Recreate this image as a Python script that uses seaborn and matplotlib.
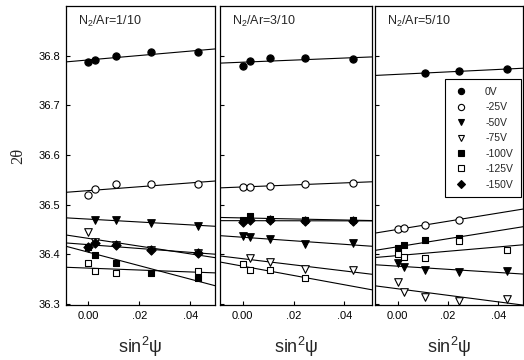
import numpy as np
import pandas as pd
import matplotlib
matplotlib.use("Agg")
import matplotlib.pyplot as plt
from matplotlib.lines import Line2D
from matplotlib.ticker import FixedLocator, FixedFormatter
import seaborn as sns

nan = np.nan

# ---- data ----
sin2psi = [0.0, 0.0027, 0.0109, 0.0245, 0.0432]
voltages = ["0V", "-25V", "-50V", "-75V", "-100V", "-125V", "-150V"]
panel_titles = ["N$_2$/Ar=1/10", "N$_2$/Ar=3/10", "N$_2$/Ar=5/10"]

# panel 1 : N2/Ar = 1/10
p1_0V   = [36.787, 36.792, 36.800, 36.807, 36.807]
p1_25V  = [36.519, 36.531, 36.541, 36.541, 36.541]
p1_50V  = [nan,    36.469, 36.469, 36.464, 36.458]
p1_75V  = [36.444, 36.424, 36.418, 36.408, 36.403]
p1_100V = [36.415, 36.398, 36.383, 36.363, 36.352]
p1_125V = [36.382, 36.367, 36.363, nan,    36.366]
p1_150V = [36.415, 36.422, 36.418, 36.408, 36.403]

# panel 2 : N2/Ar = 3/10
p2_0V   = [36.7785, 36.790, 36.7954, 36.7946, 36.7926]
p2_25V  = [36.5356, 36.5356, 36.5376, 36.5424, 36.5436]
p2_50V  = [36.4365, 36.434, 36.430, 36.4205, 36.422]
p2_75V  = [nan,     36.393, 36.3837, 36.370, 36.368]
p2_100V = [36.470,  36.477, 36.472, 36.470, 36.469]
p2_125V = [36.3797, 36.3683, 36.3683, 36.3528, nan]
p2_150V = [36.465,  36.469, 36.470, 36.467, 36.467]

# panel 3 : N2/Ar = 5/10
p3_0V   = [nan,     nan,     36.765,  36.7685, 36.773]
p3_25V  = [36.450,  36.452,  36.460,  36.470,  nan]
p3_50V  = [36.383,  36.3737, 36.3683, 36.3636, 36.3663]
p3_75V  = [36.3448, 36.3247, 36.3147, 36.306,  36.3094]
p3_100V = [36.4118, 36.4185, 36.4285, 36.433,  nan]
p3_125V = [36.4004, 36.395,  36.392,  36.4271, 36.4084]
p3_150V = [nan, nan, nan, nan, nan]

panels = [
    [p1_0V, p1_25V, p1_50V, p1_75V, p1_100V, p1_125V, p1_150V],
    [p2_0V, p2_25V, p2_50V, p2_75V, p2_100V, p2_125V, p2_150V],
    [p3_0V, p3_25V, p3_50V, p3_75V, p3_100V, p3_125V, p3_150V],
]

xticks = [0.0, 0.02, 0.04]
xticklabels = ["0.00", ".02", ".04"]
yticks = [36.3, 36.4, 36.5, 36.6, 36.7, 36.8]
yticklabels = ["36.3", "36.4", "36.5", "36.6", "36.7", "36.8"]

# ---- style ----
sns.set_theme(style="ticks")
plt.rcParams["font.family"] = ["Liberation Sans", "DejaVu Sans"]
plt.rcParams["mathtext.fontset"] = "custom"
plt.rcParams["mathtext.rm"] = "Liberation Sans"
plt.rcParams["mathtext.it"] = "Liberation Sans:italic"

markers = ["o", "o", "v", "v", "s", "s", "D"]
faces = ["black", "white", "black", "white", "black", "white", "black"]
sizes = [27, 27, 30, 30, 24, 24, 22]

fig = plt.figure(figsize=(5.24, 3.6), dpi=100)
positions = [
    [0.1260, 0.1528, 0.2844, 0.8306],
    [0.4198, 0.1528, 0.2900, 0.8306],
    [0.7156, 0.1528, 0.2824, 0.8306],
]
xlims = [(-0.0088, 0.0497), (-0.0089, 0.0508), (-0.0090, 0.0497)]
ylim = (36.298, 36.9)

axes = []
for i, (pos, series) in enumerate(zip(positions, panels)):
    ax = fig.add_axes(pos)
    axes.append(ax)
    ax.set_xlim(*xlims[i])
    ax.set_ylim(*ylim)
    # regression lines
    for vals in series:
        df = pd.DataFrame({"x": sin2psi, "y": vals}).dropna()
        if len(df) >= 2:
            sns.regplot(data=df, x="x", y="y", ax=ax, scatter=False, ci=None,
                        truncate=False, line_kws=dict(color="black", lw=0.8))
    # markers
    for vals, m, fc, s in zip(series, markers, faces, sizes):
        df = pd.DataFrame({"x": sin2psi, "y": vals}).dropna()
        if len(df):
            sns.scatterplot(data=df, x="x", y="y", ax=ax, marker=m, s=s,
                            color=fc, edgecolor="black", linewidth=0.8,
                            zorder=3, legend=False)
    ax.set_xlim(*xlims[i])
    ax.set_ylim(*ylim)
    ax.xaxis.set_major_locator(FixedLocator(xticks))
    ax.xaxis.set_major_formatter(FixedFormatter(xticklabels))
    ax.yaxis.set_major_locator(FixedLocator(yticks))
    ax.yaxis.set_major_formatter(FixedFormatter(yticklabels))
    ax.tick_params(direction="in", length=3, width=0.8, labelsize=8,
                   colors="black", pad=4)
    for sp in ax.spines.values():
        sp.set_visible(True)
        sp.set_color("black")
        sp.set_linewidth(0.9)
    if i > 0:
        ax.tick_params(labelleft=False)
        ax.set_ylabel("")
    ax.set_xlabel("sin$^2$ψ", fontsize=13, labelpad=10)
    ax.text(0.08, 0.975, panel_titles[i], transform=ax.transAxes,
            ha="left", va="top", fontsize=9)

axes[0].set_ylabel("2θ", fontsize=12, family=["Liberation Serif", "DejaVu Serif"])
axes[0].yaxis.set_label_coords(-0.27, 0.5)

handles = [Line2D([], [], marker=m, ls="none", markerfacecolor=fc,
                  markeredgecolor="black", markeredgewidth=0.8, markersize=4.5)
           for m, fc in zip(markers, faces)]
leg = axes[2].legend(handles, voltages, loc="upper right",
                     bbox_to_anchor=(0.985, 0.755), fontsize=7.5,
                     frameon=True, fancybox=False, edgecolor="black",
                     framealpha=1, labelspacing=0.52, handlelength=1.6,
                     handletextpad=1.5, borderpad=0.75, borderaxespad=0)
leg.get_frame().set_linewidth(0.8)

fig.savefig("out.png", dpi=100)
